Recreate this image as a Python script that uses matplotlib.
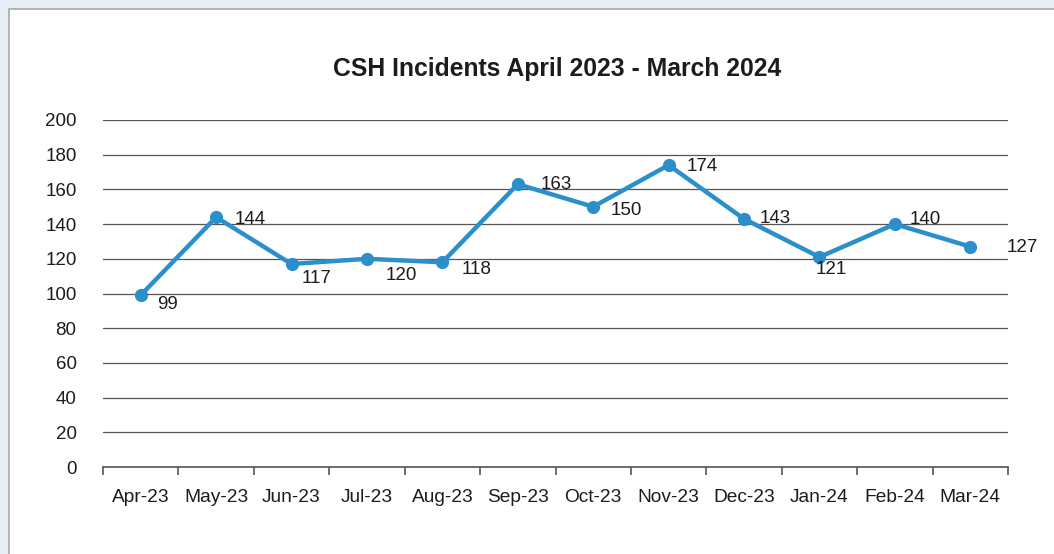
import matplotlib.pyplot as plt
from matplotlib.patches import Rectangle

plt.rcParams['font.family'] = ['Liberation Sans', 'DejaVu Sans']

months = ['Apr-23', 'May-23', 'Jun-23', 'Jul-23', 'Aug-23', 'Sep-23',
          'Oct-23', 'Nov-23', 'Dec-23', 'Jan-24', 'Feb-24', 'Mar-24']
incidents = [99, 144, 117, 120, 118, 163, 150, 174, 143, 121, 140, 127]

# where each value label sits relative to its point (pixels right, up)
label_offsets = [(27, -9), (34, -2), (25, -14), (34, -17), (34, -7), (38, 0),
                 (33, -4), (34, -1), (31, 0), (12, -12), (30, 5), (52, -1)]

line_color = '#2b8fcc'
text_color = '#1e1b1c'

fig = plt.figure(figsize=(10.54, 5.54), dpi=100)
fig.patch.set_facecolor('#e7eef6')
fig.patches.append(Rectangle((8.5 / 1054, -0.1), 1.1, 1 - 9.5 / 554 + 0.1,
                             transform=fig.transFigure, facecolor='white',
                             edgecolor='#a8a8a8', linewidth=1.2, zorder=-10))

ax = fig.add_axes([103 / 1054, 1 - 467 / 554, 905 / 1054, 347 / 554])
ax.set_facecolor('none')

x = list(range(len(months)))
ax.plot(x, incidents, color=line_color, linewidth=3.2, marker='o',
        markersize=8.5, solid_capstyle='round', zorder=3)

for xi, v, (dx, dy) in zip(x, incidents, label_offsets):
    ax.annotate(str(v), (xi, v), xytext=(dx * 0.72, dy * 0.72),
                textcoords='offset points', ha='center', va='center',
                fontsize=13.5, color=text_color)

ax.set_xlim(-0.5, len(months) - 0.5)
ax.set_ylim(0, 200)
ax.set_yticks(range(0, 201, 20))
ax.yaxis.grid(True, color='#555555', linewidth=0.9)
ax.set_axisbelow(True)

ax.set_xticks(x)
ax.set_xticklabels(months)
ax.set_xticks([i - 0.5 for i in range(len(months) + 1)], minor=True)
ax.tick_params(axis='x', which='major', length=0, pad=16,
               labelsize=13.8, labelcolor=text_color)
ax.tick_params(axis='x', which='minor', length=6, width=1.2, color='#555555')
ax.tick_params(axis='y', length=0, pad=19, labelsize=13.5,
               labelcolor=text_color)

for side in ['top', 'right', 'left']:
    ax.spines[side].set_visible(False)
ax.spines['bottom'].set_color('#555555')
ax.spines['bottom'].set_linewidth(1.2)

fig.text(557 / 1054, 1 - 69 / 554, 'CSH Incidents April 2023 - March 2024',
         ha='center', va='center', fontsize=17.8, fontweight='bold',
         color=text_color)

fig.savefig('out.png', dpi=100, facecolor=fig.get_facecolor())
